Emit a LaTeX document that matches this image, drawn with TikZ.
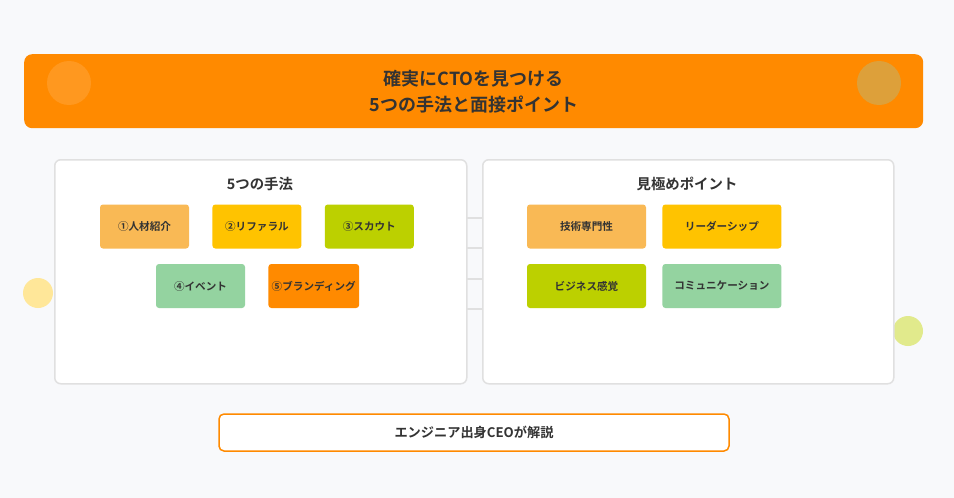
\documentclass[tikz,border=0pt]{standalone}
\usepackage{fontspec}
\setmainfont{Noto Sans CJK JP}[BoldFont={Noto Sans CJK JP Bold}]
\usetikzlibrary{positioning}
\definecolor{bgpage}{HTML}{F8F9FB}
\definecolor{brandorange}{HTML}{FF8A00}
\definecolor{softorange}{HTML}{F9B955}
\definecolor{gold}{HTML}{FFC300}
\definecolor{lime}{HTML}{BCD000}
\definecolor{mint}{HTML}{94D3A0}
\definecolor{inkgray}{HTML}{333333}
\definecolor{linegray}{HTML}{E0E0E0}
\definecolor{darkdot}{HTML}{DDA03A}
\tikzset{
  panel/.style={rectangle, rounded corners=6pt, draw=linegray, line width=1.5pt, fill=white, anchor=north west},
  method/.style={rectangle, rounded corners=3pt, minimum width=89pt, minimum height=44pt, text centered, font=\bfseries\fontsize{10.6}{12}\selectfont, text=inkgray},
  point/.style={method, minimum width=119pt},
  paneltitle/.style={font=\bfseries\fontsize{14.4}{16}\selectfont, text=inkgray},
  link/.style={draw=linegray, line width=1.2pt}
}
\begin{document}
\begin{tikzpicture}[x=1pt, y=-1pt]
  \fill[bgpage] (0,0) rectangle (954,498);
  \useasboundingbox (0,0) rectangle (954,498);

  % Header
  \node (header) [rectangle, rounded corners=8pt, fill=brandorange, minimum width=899pt, minimum height=74pt, anchor=north west, align=center, text=inkgray, font=\bfseries\fontsize{18}{26}\selectfont] at (24,54) {確実にCTOを見つける\\5つの手法と面接ポイント};
  \fill[white, opacity=0.12] (69,83) circle (22);
  \fill[darkdot] (879,83) circle (22);

  % Decoration
  \fill[gold!40] (38,293) circle (15);
  \fill[lime!45] (908,331) circle (15);

  % Panels
  \node (left) [panel, minimum width=412pt, minimum height=224pt] at (54,159) {};
  \node (right) [panel, minimum width=411pt, minimum height=224pt] at (482,159) {};
  \node (lefttitle) [paneltitle] at (260,184) {5つの手法};
  \node (righttitle) [paneltitle] at (687,184) {見極めポイント};

  % Links between panels
  \foreach \y in {218,248,279,309} {
    \coordinate (la\y) at (466,\y);
    \coordinate (ra\y) at (482,\y);
    \draw [link] (la\y) -- (ra\y);
  }

  % Methods
  \node (m1) [method, fill=softorange] at (144.5,226.5) {①人材紹介};
  \node (m2) [method, fill=gold, right=23pt of m1] {②リファラル};
  \node (m3) [method, fill=lime, right=23pt of m2] {③スカウト};
  \node (m4) [method, fill=mint] at (200.5,286) {④イベント};
  \node (m5) [method, fill=brandorange, right=23pt of m4] {⑤ブランディング};

  % Points
  \node (p1) [point, fill=softorange] at (586.5,226.5) {技術専門性};
  \node (p2) [point, fill=gold, right=16pt of p1] {リーダーシップ};
  \node (p3) [point, fill=lime] at (586.5,286) {ビジネス感覚};
  \node (p4) [point, fill=mint, right=16pt of p3] {コミュニケーション};

  % Footer
  \node (footer) [rectangle, rounded corners=5pt, draw=brandorange, line width=1.5pt, fill=white, minimum width=510pt, minimum height=37pt, text=inkgray, font=\bfseries\fontsize{13.2}{15}\selectfont] at (474,432.5) {エンジニア出身CEOが解説};
\end{tikzpicture}
\end{document}
